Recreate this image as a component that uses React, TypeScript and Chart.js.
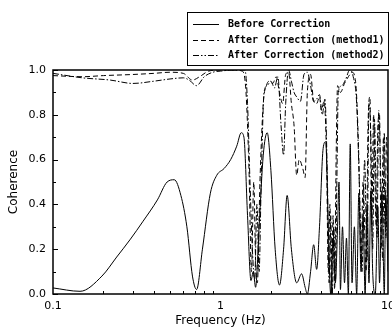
import React, { useEffect, useRef } from "react";
import { Chart, registerables } from "chart.js";

Chart.register(...registerables);

const seriesNames = [
  "Before Correction",
  "After Correction (method1)",
  "After Correction (method2)",
];

const xTickValues = [0.1, 1, 10];
const yTickValues = [0, 0.2, 0.4, 0.6, 0.8, 1.0];

const beforeFreq = [
  0.1, 0.145, 0.196, 0.24, 0.29, 0.345, 0.42, 0.48, 0.53, 0.58, 0.63, 0.68, 0.72,
  0.78, 0.87, 0.95, 1.05, 1.15, 1.25, 1.33, 1.38, 1.45, 1.52, 1.57, 1.62, 1.7,
  1.8, 1.9, 2.0, 2.12, 2.25, 2.38, 2.5, 2.65, 2.85, 3.05, 3.2, 3.3, 3.45, 3.6,
  3.75, 3.9, 4.1, 4.25, 4.4, 4.55, 4.7, 4.85, 5.0, 5.1, 5.2, 5.35, 5.5, 5.65,
  5.8, 5.95, 6.1, 6.3, 6.5, 6.7, 6.9, 7.1, 7.3, 7.5, 7.7, 7.9, 8.1, 8.4, 8.7,
  8.9, 9.2, 9.5, 9.7, 10,
];
const beforeVals = [
  0.027, 0.012, 0.08, 0.165, 0.245, 0.325, 0.42, 0.5, 0.51, 0.44, 0.3, 0.08, 0.02,
  0.2, 0.45, 0.53, 0.56, 0.6, 0.66, 0.72, 0.7, 0.35, 0.06, 0.1, 0.03, 0.3,
  0.62, 0.72, 0.55, 0.2, 0.04, 0.2, 0.44, 0.2, 0.05, 0.09, 0.03, 0.0, 0.1, 0.22,
  0.11, 0.3, 0.65, 0.68, 0.3, 0.0, 0.25, 0.05, 0.3, 0.5, 0.02, 0.3, 0.05, 0.25,
  0.0, 0.67, 0.05, 0.3, 0.0, 0.45, 0.1, 0.35, 0.0, 0.4, 0.05, 0.46, 0.1, 0.0,
  0.39, 0.05, 0.46, 0.0, 0.44, 0.1,
];

const method1Freq = [
  0.1, 0.15, 0.2, 0.3, 0.4, 0.5, 0.6, 0.68, 0.75, 0.85, 1.0, 1.2, 1.35, 1.42,
  1.48, 1.53, 1.58, 1.62, 1.66, 1.72, 1.8, 1.88, 1.95, 2.05, 2.15, 2.25, 2.35,
  2.45, 2.55, 2.65, 2.75, 2.85, 2.95, 3.1, 3.2, 3.3, 3.45, 3.6, 3.75, 3.9,
  4.0, 4.15, 4.3, 4.4, 4.5, 4.6, 4.7, 4.8, 4.9, 5.0, 5.2, 5.5, 5.8, 6.1, 6.4,
  6.7, 6.9, 7.1, 7.4, 7.6, 7.8, 8.0, 8.2, 8.5, 8.7, 8.9, 9.1, 9.4, 9.6, 9.8, 10,
];
const method1Vals = [
  0.975, 0.97, 0.975, 0.98, 0.985, 0.99, 0.985, 0.955, 0.97, 0.995, 1.0, 1.0,
  0.995, 0.9, 0.55, 0.1, 0.5, 0.15, 0.05, 0.5, 0.85, 0.93, 0.95, 0.94, 0.97,
  0.9, 0.85, 0.98, 0.99, 0.85, 0.75, 0.53, 0.6, 0.56, 0.52, 0.9, 0.98, 0.86,
  0.85, 0.88, 0.82, 0.86, 0.6, 0.1, 0.4, 0.0, 0.35, 0.02, 0.6, 0.93, 0.9, 0.94,
  0.97, 0.99, 0.95, 0.6, 0.15, 0.5, 0.1, 0.75, 0.88, 0.3, 0.8, 0.3, 0.75, 0.8,
  0.2, 0.7, 0.3, 0.7, 0.4,
];

const method2Freq = [
  0.1, 0.15, 0.22, 0.3, 0.4, 0.5, 0.6, 0.65, 0.72, 0.8, 0.9, 1.0, 1.2, 1.4,
  1.45, 1.5, 1.55, 1.6, 1.65, 1.7, 1.75, 1.82, 1.9, 2.0, 2.1, 2.2, 2.3, 2.38,
  2.45, 2.55, 2.65, 2.75, 2.85, 3.0, 3.15, 3.3, 3.45, 3.6, 3.75, 3.9, 4.05, 4.2,
  4.35, 4.45, 4.55, 4.65, 4.75, 4.85, 4.95, 5.05, 5.3, 5.6, 5.9, 6.2, 6.5, 6.8,
  7.0, 7.25, 7.5, 7.7, 7.9, 8.1, 8.3, 8.6, 8.8, 9.0, 9.3, 9.5, 9.7, 10,
];
const method2Vals = [
  0.985, 0.965, 0.955, 0.94, 0.95, 0.96, 0.965, 0.955, 0.93, 0.97, 0.99, 0.995,
  1.0, 1.0, 0.85, 0.5, 0.2, 0.06, 0.4, 0.1, 0.5, 0.9, 0.93, 0.95, 0.92, 0.97,
  0.75, 0.62, 0.85, 1.0, 0.95, 0.9, 0.88, 0.86, 0.98, 0.99, 0.93, 0.86, 0.87,
  0.89, 0.8, 0.87, 0.5, 0.05, 0.35, 0.0, 0.3, 0.05, 0.5, 0.9, 0.93, 0.96, 1.0,
  0.97, 0.85, 0.4, 0.1, 0.6, 0.15, 0.85, 0.7, 0.2, 0.78, 0.25, 0.82, 0.6, 0.15,
  0.72, 0.25, 0.6,
];

const seriesDash: number[][] = [[], [5, 3], [6, 2, 1.5, 2]];
const legendDash: number[][] = [[], [5, 3], [6, 2, 1.5, 2, 1.5, 2]];

const toPoints = (xs: number[], ys: number[]) =>
  xs.map((x, i) => ({ x, y: ys[i] }));

const framePlugin = {
  id: "frameAndLegend",
  afterDraw(chart: any) {
    const { ctx, chartArea, scales } = chart;
    const { left, right, top, bottom } = chartArea;
    ctx.save();
    ctx.strokeStyle = "#000";
    ctx.setLineDash([]);
    ctx.lineWidth = 1.5;
    ctx.strokeRect(left, top, right - left, bottom - top);
    ctx.lineWidth = 1;
    for (let i = 0; i <= 10; i++) {
      const y = Math.round(scales.y.getPixelForValue(i / 10)) + 0.5;
      const len = i % 2 === 0 ? 5 : 3;
      ctx.beginPath();
      ctx.moveTo(left, y);
      ctx.lineTo(left + len, y);
      ctx.stroke();
    }
    for (const dec of [0.1, 1]) {
      for (let m = 2; m <= 9; m++) {
        const x = Math.round(scales.x.getPixelForValue(dec * m)) + 0.5;
        ctx.beginPath();
        ctx.moveTo(x, bottom);
        ctx.lineTo(x, bottom - 3);
        ctx.stroke();
      }
    }
    const bx = 187, by = 12, bw = 201, bh = 53;
    ctx.fillStyle = "#fff";
    ctx.fillRect(bx, by, bw, bh);
    ctx.strokeRect(bx + 0.5, by + 0.5, bw, bh);
    ctx.font = "bold 10px 'DejaVu Sans Mono'";
    ctx.textBaseline = "middle";
    ctx.fillStyle = "#000";
    const rows = [24, 40, 55];
    seriesNames.forEach((name, i) => {
      const y = rows[i] + 0.5;
      ctx.setLineDash(legendDash[i]);
      ctx.beginPath();
      ctx.moveTo(193, y);
      ctx.lineTo(219, y);
      ctx.stroke();
      ctx.setLineDash([]);
      ctx.fillText(name, 228, rows[i]);
    });
    ctx.restore();
  },
};

export default function App() {
  const ref = useRef<HTMLCanvasElement | null>(null);
  useEffect(() => {
    document.body.style.margin = "0";
    if (!ref.current) return;
    const datasets = [
      toPoints(beforeFreq, beforeVals),
      toPoints(method1Freq, method1Vals),
      toPoints(method2Freq, method2Vals),
    ].map((data, i) => ({
      label: seriesNames[i],
      data,
      borderColor: "#000",
      borderWidth: 1,
      borderDash: seriesDash[i],
      pointRadius: 0,
      fill: false,
      cubicInterpolationMode: "monotone" as const,
    }));
    const chart = new Chart(ref.current, {
      type: "line",
      data: { datasets },
      plugins: [framePlugin],
      options: {
        responsive: false,
        animation: false,
        devicePixelRatio: 1,
        layout: { padding: { top: 70, right: 4, left: 0, bottom: 0 } },
        plugins: { legend: { display: false }, tooltip: { enabled: false } },
        scales: {
          x: {
            type: "logarithmic",
            min: 0.1,
            max: 10,
            afterFit: (s: any) => {
              s.height = 37;
              s.paddingLeft = 0;
              s.paddingRight = 0;
            },
            afterBuildTicks: (s: any) => {
              s.ticks = xTickValues.map((v) => ({ value: v }));
            },
            ticks: {
              color: "#000",
              padding: 6,
              maxRotation: 0,
              autoSkip: false,
              font: { family: "'DejaVu Sans'", size: 11 },
              callback: (v: any) => String(v),
            },
            grid: { display: false, drawTicks: false },
            border: { display: false },
            title: {
              display: true,
              text: "Frequency (Hz)",
              color: "#000",
              font: { family: "'DejaVu Sans'", size: 12 },
              padding: { top: 0, bottom: 3 },
            },
          },
          y: {
            type: "linear",
            min: 0,
            max: 1,
            afterFit: (s: any) => {
              s.width = 53;
              s.paddingTop = 0;
              s.paddingBottom = 0;
            },
            afterBuildTicks: (s: any) => {
              s.ticks = yTickValues.map((v) => ({ value: v }));
            },
            ticks: {
              color: "#000",
              padding: 7,
              font: { family: "'DejaVu Sans'", size: 11 },
              callback: (v: any) => Number(v).toFixed(1),
            },
            grid: { display: false, drawTicks: false },
            border: { display: false },
            title: {
              display: true,
              text: "Coherence",
              color: "#000",
              font: { family: "'DejaVu Sans'", size: 12 },
              padding: { top: 7, bottom: 0 },
            },
          },
        },
      },
    });
    return () => chart.destroy();
  }, []);
  return (
    <div style={{ width: 392, height: 331 }}>
      <canvas ref={ref} width={392} height={331} />
    </div>
  );
}
